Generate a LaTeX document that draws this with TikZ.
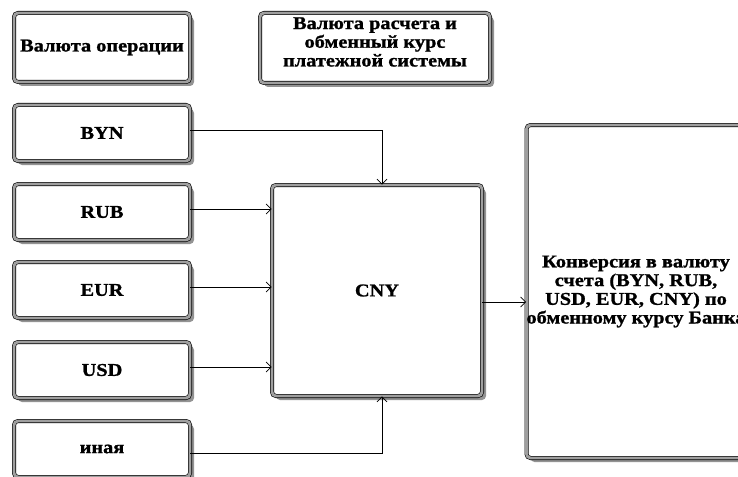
\documentclass[tikz,border=0pt]{standalone}
\usepackage{fontspec}
\setmainfont{Liberation Serif}[FakeStretch=1.13, BoldFeatures={FakeBold=1.2}]
\usetikzlibrary{shadows,arrows.meta}
\begin{document}
\begin{tikzpicture}[x=1pt,y=-1pt,
  box/.style={draw=black, line width=0.6pt, double=gray!75, double distance=2.8pt,
    rounded corners=4pt, fill=white, inner sep=0pt, align=center,
    font=\fontsize{18}{18.7}\selectfont\bfseries,
    general shadow={fill=gray!85, shadow xshift=4pt, shadow yshift=-4pt}},
  lbox/.style={box, minimum width=176pt, minimum height=56pt},
  conn/.style={line width=0.8pt, -{Straight Barb[length=5pt,width=10pt]}}]
\useasboundingbox (0,0) rectangle (738,476);
\clip (0,0) rectangle (738,476);
\node[box, minimum width=176pt, minimum height=69pt] (op) at (102,47.5) {Валюта операции};
\node[box, minimum width=230pt, minimum height=70pt] (rate) at (375,48) {\raisebox{4pt}[\height][\depth]{\begin{tabular}{@{}c@{}}Валюта расчета и\\обменный курс\\платежной системы\end{tabular}}};
\node[lbox] (byn) at (102,133) {BYN};
\node[lbox] (rub) at (102,212) {RUB};
\node[lbox] (eur) at (102,290) {EUR};
\node[lbox] (usd) at (102,370) {USD};
\node[lbox] (oth) at (102,449) {иная};
\node[box, minimum width=210pt, minimum height=211pt] (cny) at (377,290.5) {CNY};
\node[box, minimum width=218pt, minimum height=333pt] (conv) at (636,291.5) {Конверсия в валюту\\счета (BYN, RUB,\\USD, EUR, CNY) по\\обменному курсу Банка};
\draw[conn] ([yshift=3pt]byn.east) -| ([xshift=5pt]cny.north);
\draw[conn] ([yshift=3pt]rub.east) -- ([yshift=3pt]rub.east -| cny.west);
\draw[conn] ([yshift=3pt]eur.east) -- ([yshift=3pt]eur.east -| cny.west);
\draw[conn] ([yshift=3pt]usd.east) -- ([yshift=3pt]usd.east -| cny.west);
\draw[conn] ([yshift=-4pt]oth.east) -| ([xshift=5pt]cny.south);
\draw[conn] ([yshift=-11.5pt]cny.east) -- ([yshift=-11.5pt]cny.east -| conv.west);
\end{tikzpicture}
\end{document}
